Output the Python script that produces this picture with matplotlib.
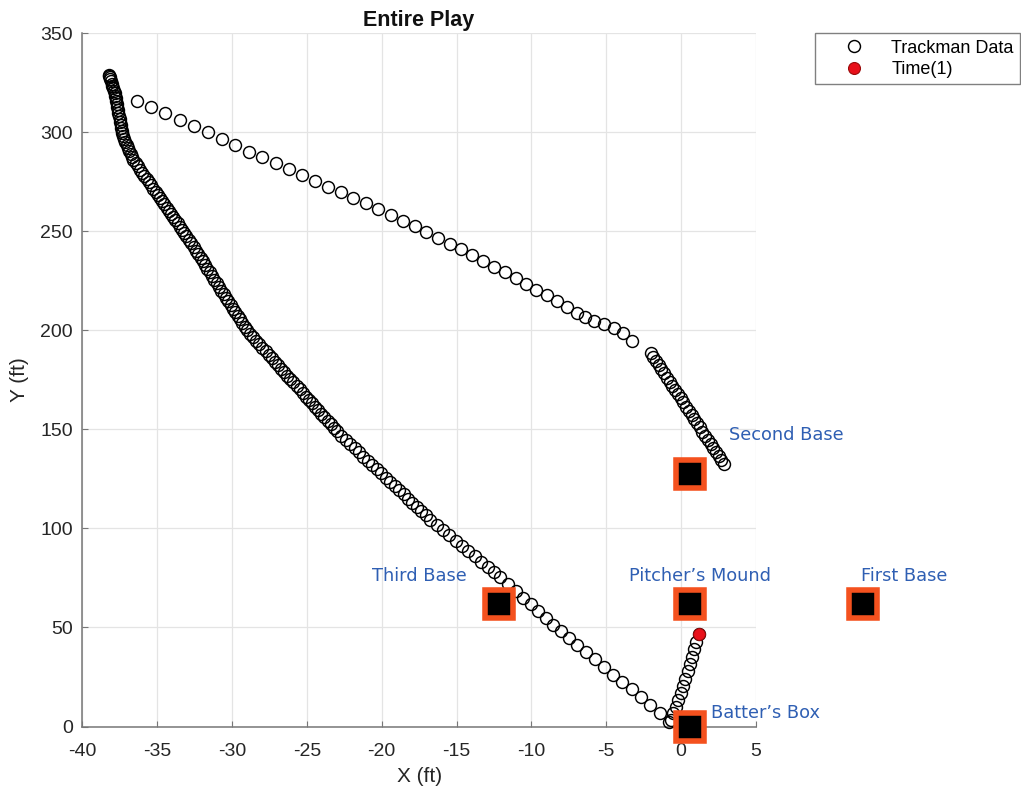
import matplotlib as mpl
mpl.use('Agg')
import matplotlib.pyplot as plt

plt.rcParams['font.family'] = ['Liberation Sans', 'DejaVu Sans']
plt.rcParams['axes.unicode_minus'] = False

# Trackman positions (ft), in time order: pitch, batted ball, throw, relay
pitch_x = [1.21, 1.01, 0.88, 0.72, 0.59, 0.44, 0.27, 0.12, -0.01, -0.17, -0.35, -0.53, -0.68]
pitch_y = [46.8, 42.6, 38.9, 35.2, 31.5, 27.9, 24.2, 20.7, 17.0, 13.3, 9.9, 6.6, 3.2]

hit_x = [-0.82, -1.40, -2.05, -2.70, -3.30, -3.92, -4.55, -5.15, -5.75, -6.35, -6.93, -7.50, -8.05,
         -8.55, -9.05, -9.55, -10.05, -10.55, -11.05, -11.55, -12.07,
         -12.49, -12.92, -13.34, -13.77, -14.20, -14.62, -15.05, -15.48, -15.90, -16.33, -16.76,
         -17.06, -17.35, -17.65, -17.95, -18.25, -18.54, -18.84, -19.14, -19.43, -19.73, -20.03,
         -20.33, -20.62, -20.92, -21.22, -21.51, -21.81, -22.11, -22.41, -22.70, -23.00,
         -23.21, -23.41, -23.62, -23.83, -24.03, -24.24, -24.45, -24.66, -24.86, -25.07, -25.28,
         -25.48, -25.69, -25.90, -26.10, -26.31, -26.52, -26.72, -26.93, -27.14, -27.34, -27.55,
         -27.76, -27.97, -28.17, -28.38, -28.59, -28.79, -29.00,
         -29.16, -29.31, -29.47, -29.62, -29.78, -29.93, -30.09, -30.25, -30.40, -30.56, -30.71,
         -30.87, -31.02, -31.18, -31.34, -31.49, -31.65, -31.80, -31.96, -32.11, -32.27, -32.43,
         -32.58, -32.74, -32.89, -33.05,
         -33.20, -33.35, -33.49, -33.64, -33.79, -33.94, -34.09, -34.23, -34.38, -34.53, -34.68,
         -34.83, -34.97, -35.12, -35.27, -35.42, -35.57, -35.71, -35.86, -36.01, -36.16, -36.31,
         -36.45, -36.60,
         -36.69, -36.78, -36.86, -36.95, -37.04, -37.13, -37.21, -37.30,
         -37.34, -37.37, -37.41, -37.45, -37.49, -37.52, -37.56, -37.60, -37.64, -37.67, -37.71,
         -37.75, -37.79, -37.82, -37.86,
         -37.91, -37.96, -38.01, -38.06, -38.11, -38.15, -38.19, -38.20, -38.20]
hit_y = [2.5, 6.6, 10.8, 15.0, 19.0, 22.4, 26.2, 30.1, 34.2, 37.5, 40.9, 44.5, 48.0,
         51.4, 54.8, 58.2, 61.6, 65.0, 68.5, 71.9, 75.3,
         77.9, 80.6, 83.2, 85.9, 88.5, 91.2, 93.8, 96.5, 99.2, 101.8, 104.5,
         106.6, 108.8, 110.9, 113.0, 115.1, 117.2, 119.4, 121.5, 123.6, 125.7, 127.8,
         130.0, 132.1, 134.2, 136.3, 138.5, 140.6, 142.7, 144.8, 146.9, 149.1,
         150.9, 152.6, 154.4, 156.1, 157.9, 159.6, 161.4, 163.1, 164.9, 166.6, 168.4,
         170.2, 171.9, 173.7, 175.4, 177.2, 178.9, 180.7, 182.4, 184.2, 185.9, 187.7,
         189.5, 191.2, 193.0, 194.7, 196.5, 198.2, 200.0,
         201.8, 203.7, 205.5, 207.3, 209.2, 211.0, 212.8, 214.6, 216.5, 218.3, 220.1,
         222.0, 223.8, 225.6, 227.5, 229.3, 231.1, 232.9, 234.8, 236.6, 238.4, 240.3,
         242.1, 243.9, 245.8, 247.6,
         249.2, 250.8, 252.4, 254.0, 255.6, 257.2, 258.8, 260.4, 262.0, 263.6, 265.2,
         266.8, 268.4, 270.0, 271.6, 273.2, 274.8, 276.4, 278.0, 279.6, 281.2, 282.8,
         284.4, 286.0,
         287.5, 289.0, 290.5, 292.0, 293.5, 295.0, 296.5, 298.0,
         299.5, 300.9, 302.4, 303.9, 305.3, 306.8, 308.3, 309.7, 311.2, 312.7, 314.1,
         315.6, 317.1, 318.5, 320.0,
         321.1, 322.3, 323.5, 324.6, 325.7, 326.8, 328.0, 328.5, 328.8]

throw_x = [-36.37, -35.42, -34.46, -33.51, -32.57, -31.62, -30.67, -29.78, -28.88, -27.98,
           -27.09, -26.21, -25.33, -24.45, -23.57, -22.73, -21.90, -21.06, -20.23, -19.41,
           -18.60, -17.80, -17.01, -16.23, -15.46, -14.70, -13.95, -13.21, -12.48, -11.76,
           -11.05, -10.35, -9.66, -8.98, -8.30, -7.63, -6.97, -6.40, -5.78, -5.15, -4.48,
           -3.85, -3.25]
throw_y = [315.8, 312.7, 309.6, 306.4, 303.2, 300.0, 296.8, 293.6, 290.3, 287.3,
           284.3, 281.3, 278.3, 275.3, 272.4, 269.7, 267.0, 264.1, 261.2, 258.3,
           255.4, 252.5, 249.6, 246.7, 243.8, 240.9, 238.0, 235.1, 232.2, 229.3,
           226.4, 223.5, 220.6, 217.7, 214.8, 211.9, 209.0, 206.5, 204.7, 203.0, 201.0,
           198.5, 194.6]

relay_x = [-2.02, -1.84, -1.66, -1.48, -1.30, -1.11, -0.93, -0.75, -0.57, -0.38, -0.20, -0.02,
           0.16, 0.34, 0.53, 0.71, 0.89, 1.07, 1.25, 1.44, 1.62, 1.80, 1.98, 2.16, 2.35, 2.53,
           2.71, 2.89]
relay_y = [188.7, 186.6, 184.5, 182.4, 180.4, 178.3, 176.2, 174.1, 172.0, 169.9, 167.8, 165.7,
           163.6, 161.5, 159.4, 157.3, 155.2, 153.1, 151.0, 148.9, 146.8, 144.7, 142.6, 140.5,
           138.5, 136.4, 134.4, 132.3]

# field reference points
base_names = ['Batter\u2019s Box', 'Pitcher\u2019s Mound', 'First Base', 'Second Base', 'Third Base']
base_x = [0.6, 0.6, 12.2, 0.6, -12.15]
base_y = [0.0, 62.1, 62.1, 127.3, 62.1]

track_x = pitch_x + hit_x + throw_x + relay_x
track_y = pitch_y + hit_y + throw_y + relay_y

fig = plt.figure(figsize=(10.21, 7.94), dpi=100)
ax = fig.add_axes([0.0808, 0.0850, 0.6594, 0.8731])

ax.plot(track_x, track_y, 'o', mfc='none', mec='black', ms=8.6, mew=1.05,
        label='Trackman Data', clip_on=False, zorder=3)
ax.plot(pitch_x[0], pitch_y[0], 'o', mfc='#e8101a', mec='#9a0a0a', ms=8.6, mew=0.8,
        label='Time(1)', clip_on=False, zorder=4)
ax.plot(base_x, base_y, 's', ms=19.8, mfc='black', mec='#f4511e', mew=4.0,
        ls='none', clip_on=False, zorder=5)

label_blue = '#2f5fb3'
lab_kw = dict(color=label_blue, fontsize=12.8, family='DejaVu Sans', va='center')
ax.text(3.2, 147, base_names[3], ha='left', **lab_kw)
ax.text(1.3, 76, base_names[1], ha='center', **lab_kw)
ax.text(14.9, 76, base_names[2], ha='center', **lab_kw)
ax.text(-17.5, 76, base_names[4], ha='center', **lab_kw)
ax.text(2.0, 6.7, base_names[0], ha='left', **lab_kw)

ax.set_xlim(-40, 5)
ax.set_ylim(0, 350)
ax.set_xticks(range(-40, 6, 5))
ax.set_yticks(range(0, 351, 50))
ax.grid(True, color='#e4e4e4', lw=0.9)
ax.set_axisbelow(True)
for side in ['top', 'right']:
    ax.spines[side].set_visible(False)
for side in ['left', 'bottom']:
    ax.spines[side].set_color('#777777')
    ax.spines[side].set_linewidth(1.1)
ax.tick_params(direction='in', length=4, color='#777777', labelsize=14,
               labelcolor='#262626')
ax.tick_params(axis='x', pad=12)
ax.tick_params(axis='y', pad=7)

ax.set_xlabel('X (ft)', fontsize=15, color='#262626', labelpad=5)
ax.set_ylabel('Y (ft)', fontsize=15, color='#262626', labelpad=8)
ax.set_title('Entire Play', fontsize=15.5, fontweight='bold', color='#111111', pad=5)

fig.legend(loc='upper right', bbox_to_anchor=(1020 / 1021, 760.7 / 794), borderaxespad=0,
           fontsize=13, fancybox=False, edgecolor='#808080', framealpha=1,
           handlelength=3.7, handletextpad=0.2, labelspacing=0.25, borderpad=0.35)

fig.savefig('out.png', dpi=100)
